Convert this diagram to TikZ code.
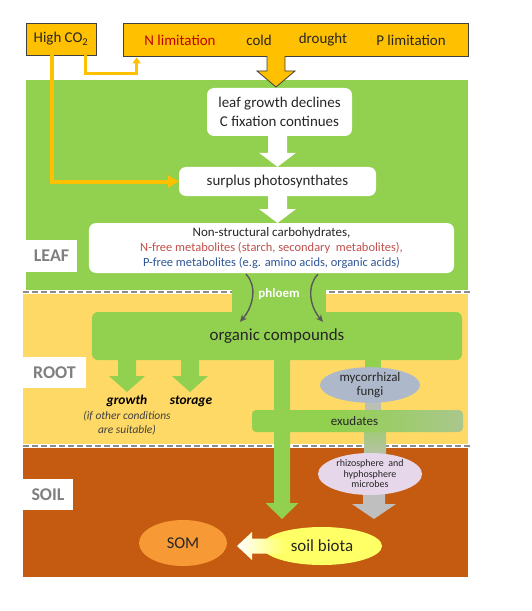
\documentclass[tikz,border=0pt]{standalone}
\usepackage{fontspec}
\setmainfont{Carlito}
\usetikzlibrary{arrows.meta,calc,shapes.geometric}
\definecolor{leafgreen}{HTML}{92D050}
\definecolor{rootyellow}{HTML}{FFD966}
\definecolor{soilbrown}{HTML}{C55A11}
\definecolor{gold}{HTML}{FFC000}
\definecolor{txt}{HTML}{262626}
\definecolor{lbl}{HTML}{7F7F7F}
\definecolor{nred}{HTML}{C00000}
\definecolor{mred}{HTML}{C0504D}
\definecolor{pblue}{HTML}{2F5597}
\definecolor{fungi}{HTML}{ADB9CA}
\definecolor{rhizocol}{HTML}{E6D7EA}
\definecolor{somcol}{HTML}{F79A35}
\definecolor{biotacol}{HTML}{FFFF66}
\definecolor{grayarr}{HTML}{BFBFBF}
\definecolor{curvegray}{HTML}{595959}
\definecolor{dashgray}{HTML}{8C8C8C}
\definecolor{boxline}{HTML}{404040}
\pgfdeclarehorizontalshading{exudshade}{100bp}{color(0bp)=(leafgreen); color(45bp)=(leafgreen); color(100bp)=(grayarr)}
% #1 style, #2 start (only y used), #3 tip, #4 half shaft, #5 half head, #6 head length
\newcommand{\vblockarrow}[6]{\path[#1] let \p1=#2, \p2=#3 in
  (\x2-#4,\y1) -- (\x2-#4,\y2+#6) -- (\x2-#5,\y2+#6) -- (\x2,\y2) --
  (\x2+#5,\y2+#6) -- (\x2+#4,\y2+#6) -- (\x2+#4,\y1) -- cycle;}
\begin{document}
\begin{tikzpicture}[x=1bp,y=-1bp,
  every node/.style={inner sep=0pt, text=txt},
  goldbox/.style={fill=gold, draw=boxline, line width=0.8bp},
  toptext/.style={font=\fontsize{15}{18}\selectfont},
  wbox/.style={fill=white, rounded corners=7bp, align=center, font=\fontsize{15}{19}\selectfont},
  lblbox/.style={fill=white, text=lbl, font=\bfseries\fontsize{18}{20}\selectfont},
  goldline/.style={draw=gold, line width=3bp},
  sepback/.style={draw=white, line width=3.5bp},
  sepline/.style={draw=dashgray, line width=2.4bp, dash pattern=on 6bp off 3bp},
  curvearrow/.style={draw=curvegray, line width=1.4bp, -{Stealth[length=7bp,width=6.5bp]}},
  ell/.style={ellipse, inner sep=0pt, align=center}
  ]
\useasboundingbox (0,0) rectangle (532,611);
\fill[white] (0,0) rectangle (532,611);

% regions
\fill[leafgreen] (26,80) rectangle (468,292);
\fill[rootyellow] (23,292) rectangle (468,446);
\fill[soilbrown] (23,446) rectangle (468,577);
\draw[sepback] (23,292) -- (470,292);
\draw[sepline] (23,292) -- (470,292);
\draw[sepback] (23,446) -- (470,446);
\draw[sepline] (23,446) -- (470,446);
\fill[leafgreen] (232,286) rectangle (326,314);

% region labels
\node[lblbox, minimum width=51bp, minimum height=32bp] (leaf) at (51.5,256) {LEAF};
\node[lblbox, minimum width=63bp, minimum height=31bp] (root) at (54.5,372.5) {ROOT};
\node[lblbox, minimum width=50bp, minimum height=31bp] (soil) at (48,494.5) {SOIL};

% top boxes
\node[goldbox, minimum width=70bp, minimum height=32bp, toptext] (hico2) at (61,39) {High CO\textsubscript{2}};
\node[goldbox, minimum width=345bp, minimum height=33bp] (limits) at (295.5,39.5) {};
\node[toptext, text=nred] (nlim) at (180,40) {N limitation};
\node[toptext] (cold) at (259,40) {cold};
\node[toptext] (drought) at (323,40) {drought};
\node[toptext] (plim) at (411,40) {P limitation};

% gold block arrow
\coordinate (toptip) at (276,87);
\fill[gold] (267,54) -- (267,71) -- (257,71) -- (toptip) -- (295,71) -- (285,71) -- (285,54) -- cycle;
\draw[boxline, line width=0.8bp, line join=miter] (267,56) -- (267,71) -- (257,71) -- (toptip) -- (295,71) -- (285,71) -- (285,56);

% white boxes
\node[wbox, minimum width=145bp, minimum height=48bp] (leafgrow) at (279.5,112) {leaf growth declines\\C fixation continues};
\node[wbox, minimum width=197bp, minimum height=29bp] (surplus) at (277.5,181.5) {surplus photosynthates};
\node[wbox, minimum width=365bp, minimum height=50bp, font=\fontsize{12.5}{15}\selectfont] (nsc) at (271.5,248)
  {{\fontsize{13}{15}\selectfont Non-structural carbohydrates,}\\
   \textcolor{mred}{N-free metabolites (starch, secondary\ \ metabolites),}\\
   \textcolor{pblue}{P-free metabolites (e.g. amino acids, organic acids)}};

% gold connectors
\draw[goldline, -{Triangle[width=8bp,length=6bp]}] ($(hico2.south east)+(-11,0)$) -- ++(0,18) -| ($(limits.south west)+(14,1)$);
\draw[goldline, line width=4bp, -{Triangle[width=12bp,length=11bp]}] ($(hico2.south west)+(26,0)$) |- (surplus.west);

% white arrows
\vblockarrow{fill=white}{(leafgrow.south)}{(surplus.north)}{9.5bp}{18.5bp}{14bp}
\coordinate (nsctip) at (277.5,223);
\vblockarrow{fill=white}{(surplus.south)}{(nsctip)}{9.5bp}{18.5bp}{14bp}

% organic compounds
\node[fill=leafgreen, rounded corners=6bp, minimum width=370bp, minimum height=48bp, font=\fontsize{17}{20}\selectfont] (organic) at (277,336) {organic compounds};
\node[font=\bfseries\fontsize{13}{15}\selectfont, text=white] (phloem) at (279,294) {phloem};
\draw[curvearrow] ($(nsc.south)+(-25.5,1)$) .. controls +(11,11) and +(14,-16) .. ($(organic.north)+(-37,10)$);
\draw[curvearrow] ($(nsc.south)+(46.5,1)$) .. controls +(-11,11) and +(-14,-16) .. ($(organic.north)+(46,10)$);

% growth / storage
\coordinate (gtip) at (127,392);
\coordinate (stip) at (190,392);
\vblockarrow{fill=leafgreen}{($(organic.south)+(0,-2)$)}{(gtip)}{9bp}{18bp}{16bp}
\vblockarrow{fill=leafgreen}{($(organic.south)+(0,-2)$)}{(stip)}{9bp}{18bp}{16bp}
\node[font=\bfseries\itshape\fontsize{13.5}{16}\selectfont, text=black] (growth) at (127,401) {growth};
\node[font=\bfseries\itshape\fontsize{13.5}{16}\selectfont, text=black] (storage) at (191,401) {storage};
\node[font=\itshape\fontsize{11.5}{14}\selectfont, text=boxline, align=center] (cond) at (127,423) {(if other conditions\\are suitable)};

% exudates path (bars first, then ellipses)
\coordinate (graytip) at (374,519);
\vblockarrow{fill=grayarr}{(373,490)}{(graytip)}{11bp}{22bp}{15bp}
\path[fill=leafgreen] (365,358) rectangle (381,372);
\path[fill=grayarr!90!leafgreen] (365,398) rectangle (381,412);
\shade[top color=leafgreen!65!grayarr, bottom color=grayarr!85!leafgreen] (364,430) rectangle (386,458);
\node[shading=exudshade, rounded corners=4bp, minimum width=211bp, minimum height=22bp, font=\fontsize{13}{15}\selectfont] (exud) at (357.5,421) {\hspace*{-6bp}exudates};
\node[ell, fill=fungi, minimum width=100bp, minimum height=35bp, font=\fontsize{13}{14}\selectfont] (myco) at (370,385) {mycorrhizal\\fungi};
\node[ell, fill=rhizocol, minimum width=104bp, minimum height=42bp, font=\fontsize{10}{10.5}\selectfont] (rhizo) at (370,474) {rhizosphere\ \ and\\hyphosphere\\microbes};

% main green arrow
\coordinate (greentip) at (282,519);
\vblockarrow{fill=leafgreen}{($(organic.south)+(0,-2)$)}{(greentip)}{8bp}{16.5bp}{16bp}

% soil
\node[ell, fill=somcol, minimum width=88bp, minimum height=46bp, font=\fontsize{16.5}{18}\selectfont] (som) at (183,543) {SOM};
\node[ell, fill=biotacol, minimum width=120bp, minimum height=38bp, font=\fontsize{17}{19}\selectfont] (biota) at (322,546) {soil biota};
\coordinate (btip) at (237,546);
\shade[left color=white, right color=biotacol] let \p1=(btip), \p2=(biota.center) in
  (\x1,\y1) -- (\x1+15bp,\y1+14bp) -- (\x1+15bp,\y1+7.5bp) -- (\x2-36bp,\y1+7.5bp) --
  (\x2-36bp,\y1-7.5bp) -- (\x1+15bp,\y1-7.5bp) -- (\x1+15bp,\y1-14bp) -- cycle;
\end{tikzpicture}
\end{document}
